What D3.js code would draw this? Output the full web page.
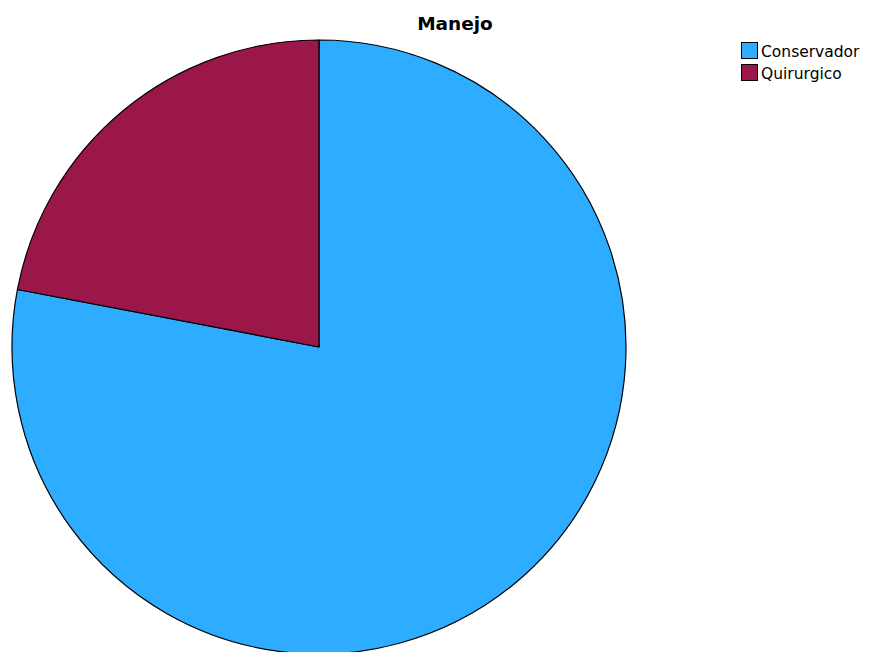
<!DOCTYPE html>
<html><head><meta charset="utf-8">
<script src="https://cdn.jsdelivr.net/npm/d3@7"></script>
<style>body{margin:0;background:#fff}</style>
</head><body>
<svg id="c" width="869" height="652"></svg>
<script>
const categories = ["Conservador", "Quirurgico"];
const values = [78, 22];
const colors = ["#2eacff", "#9b174a"];
const title = "Manejo";

const svg = d3.select("#c");
const cx = 319, cy = 347, r = 307;
const pie = d3.pie().sort(null).value(d => d.v);
const arcs = pie(categories.map((c, i) => ({c, v: values[i]})));
const arc = d3.arc().innerRadius(0).outerRadius(r);
const g = svg.append("g").attr("transform", `translate(${cx},${cy})`);
g.selectAll("path").data(arcs).join("path")
  .attr("d", arc)
  .attr("fill", (d, i) => colors[i])
  .attr("stroke", "#000").attr("stroke-width", 1.2).attr("stroke-linejoin", "round");

svg.append("text").attr("x", 455).attr("y", 30).attr("text-anchor", "middle")
  .attr("font-family", "DejaVu Sans, sans-serif").attr("font-weight", "bold").attr("font-size", 18.5)
  .text(title);

const lg = svg.append("g").attr("transform", "translate(741,42)");
categories.forEach((c, i) => {
  const row = lg.append("g").attr("transform", `translate(0,${i * 22})`);
  row.append("rect").attr("x", 0.5).attr("y", 0.5).attr("width", 16).attr("height", 16)
    .attr("fill", colors[i]).attr("stroke", "#000").attr("stroke-width", 1);
  row.append("text").attr("x", 20).attr("y", 14.5)
    .attr("font-family", "DejaVu Sans, sans-serif").attr("font-size", 15.5).text(c);
});
</script>
</body></html>
